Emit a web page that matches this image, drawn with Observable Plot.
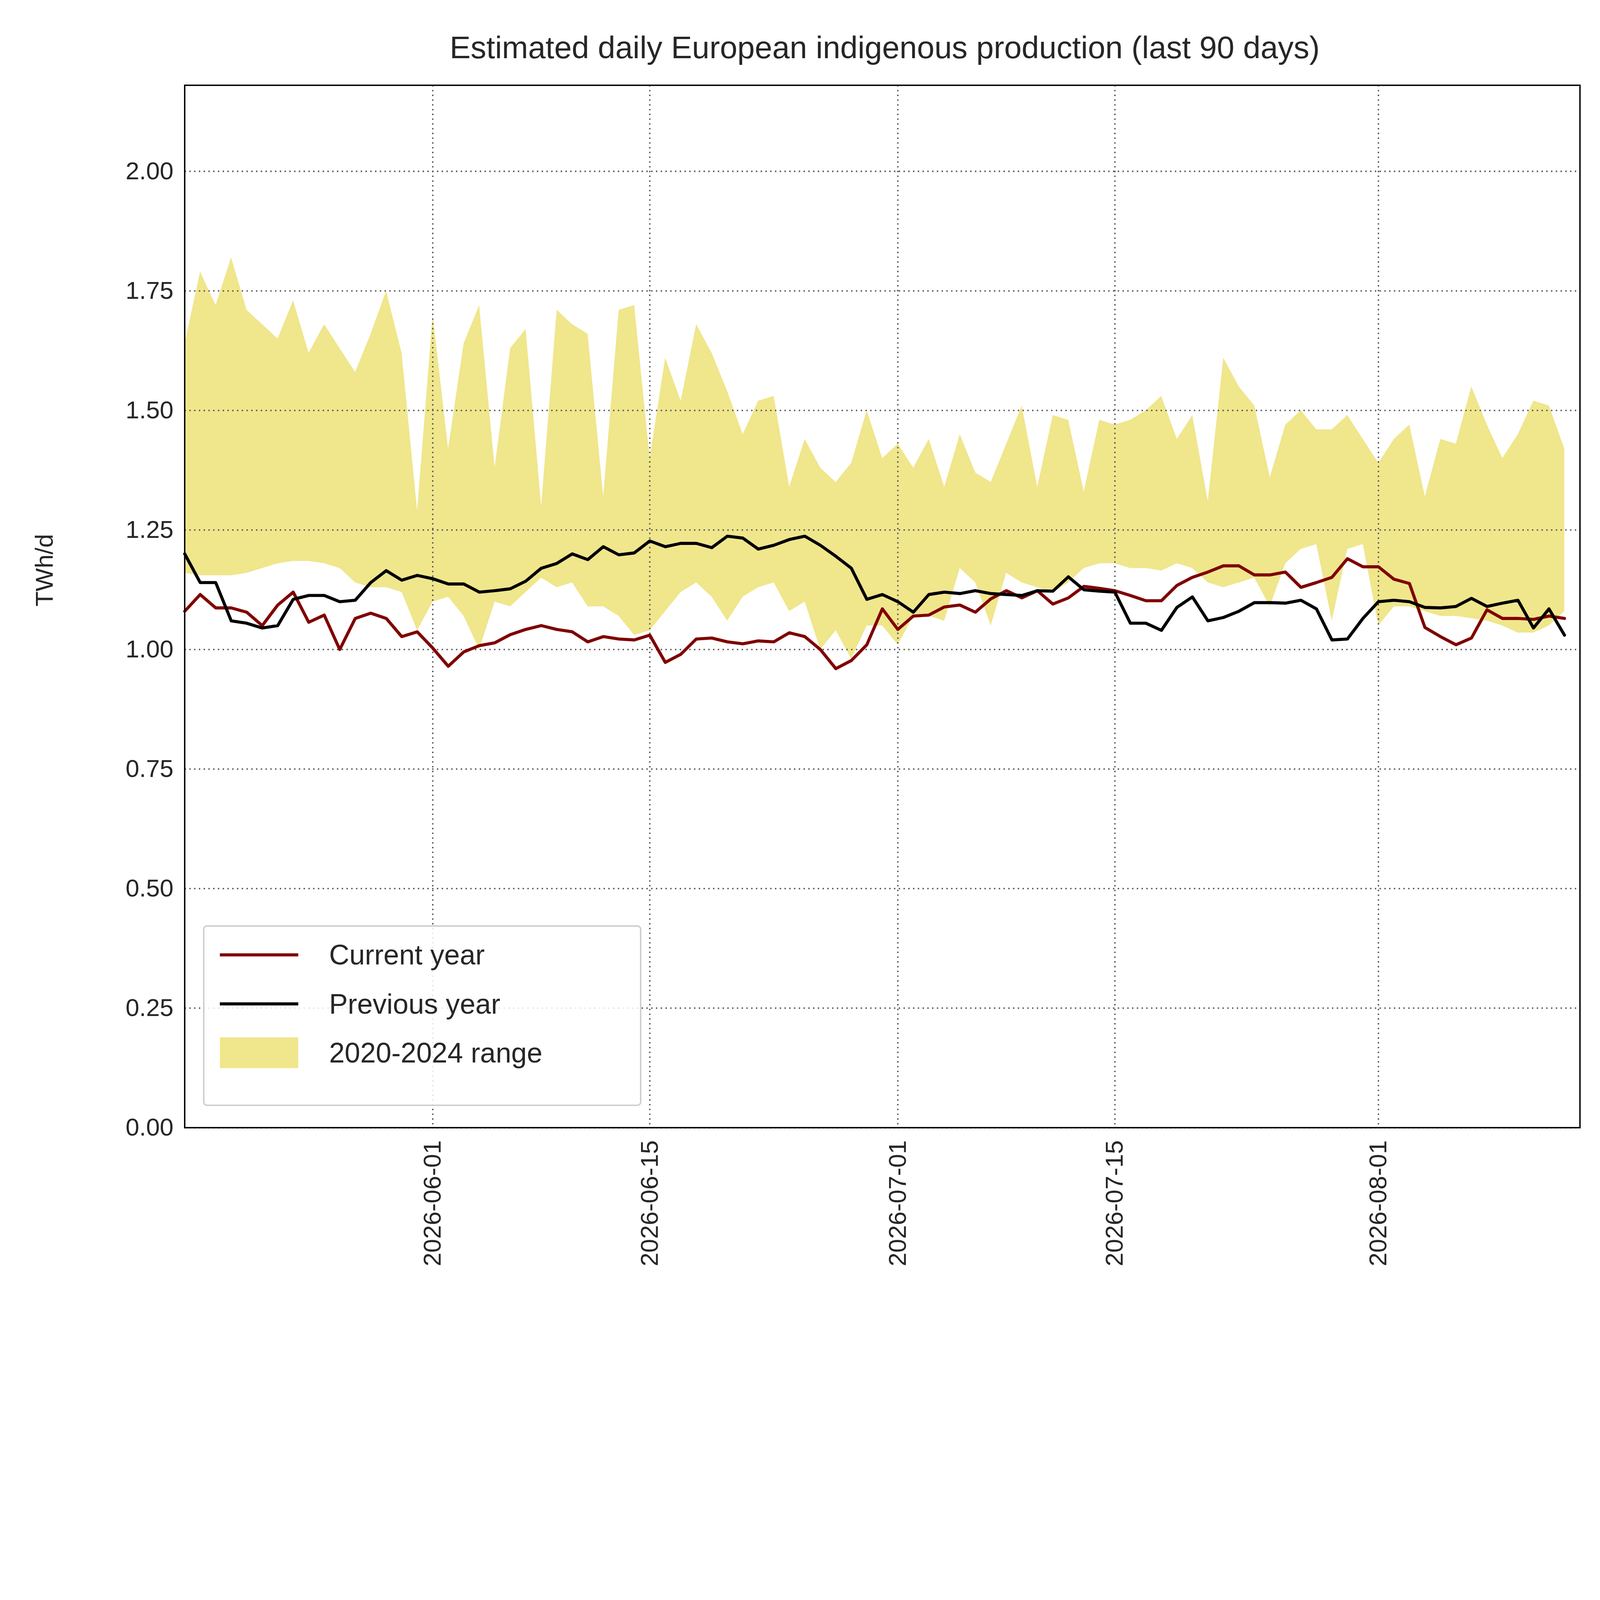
<!DOCTYPE html>
<html><head><meta charset="utf-8">
<script src="https://cdn.jsdelivr.net/npm/d3@7"></script>
<script src="https://cdn.jsdelivr.net/npm/@observablehq/plot@0.6"></script>
<style>
html,body{margin:0;padding:0;overflow:hidden;background:#fff;font-family:"Liberation Sans",Arial,sans-serif;}
#wrap{position:absolute;left:0;top:0;width:5713px;height:4906px;transform-origin:0 0;}
#title{height:300px;line-height:340px;text-align:center;font-size:112px;color:#262626;padding-left:605px;box-sizing:border-box;white-space:nowrap;}
#legend{position:absolute;left:725px;top:3304px;width:1565px;height:645px;border:5px solid #ccc;border-radius:14px;background:rgba(255,255,255,0.85);box-sizing:border-box;font-size:100px;color:#262626;}
.row{position:absolute;left:55px;height:120px;display:flex;align-items:center;white-space:nowrap;}
.sw{width:280px;margin-right:110px;}
</style></head>
<body><div id="wrap"><div id="title">Estimated daily European indigenous production (last 90 days)</div>
<div id="chart"></div>
<div id="legend">
<div class="row" style="top:40px"><div class="sw" style="height:11px;background:#800000"></div>Current year</div>
<div class="row" style="top:215px"><div class="sw" style="height:11px;background:#000"></div>Previous year</div>
<div class="row" style="top:390px"><div class="sw" style="height:110px;background:#F0E68C"></div>2020-2024 range</div>
</div></div>
<script>
const startDate = "2026-05-16";
const currentYear = [1.08,1.115,1.087,1.087,1.078,1.05,1.093,1.12,1.057,1.072,1.0,1.065,1.076,1.065,1.027,1.037,1.003,0.965,0.995,1.008,1.014,1.031,1.042,1.05,1.042,1.037,1.016,1.027,1.022,1.02,1.03,0.973,0.99,1.022,1.024,1.016,1.012,1.018,1.016,1.035,1.027,1.0,0.96,0.977,1.01,1.085,1.042,1.07,1.072,1.089,1.093,1.078,1.106,1.123,1.108,1.123,1.095,1.108,1.132,1.128,1.123,1.113,1.102,1.102,1.134,1.151,1.162,1.175,1.175,1.156,1.156,1.162,1.13,1.14,1.151,1.19,1.173,1.173,1.147,1.138,1.046,1.027,1.01,1.024,1.083,1.065,1.065,1.063,1.07,1.065];
const previousYear = [1.20,1.14,1.14,1.06,1.055,1.045,1.05,1.105,1.113,1.113,1.10,1.103,1.14,1.165,1.145,1.155,1.148,1.137,1.137,1.12,1.123,1.127,1.143,1.17,1.18,1.20,1.188,1.215,1.198,1.202,1.227,1.215,1.222,1.222,1.213,1.237,1.233,1.21,1.218,1.23,1.237,1.218,1.195,1.17,1.105,1.115,1.10,1.078,1.115,1.12,1.117,1.123,1.117,1.115,1.113,1.123,1.122,1.152,1.125,1.122,1.12,1.055,1.055,1.04,1.088,1.11,1.06,1.067,1.08,1.098,1.098,1.097,1.103,1.085,1.02,1.022,1.065,1.10,1.103,1.1,1.088,1.087,1.09,1.107,1.09,1.097,1.103,1.045,1.085,1.03];
const rangeMax = [1.64,1.79,1.72,1.82,1.71,1.68,1.65,1.73,1.62,1.68,1.63,1.58,1.66,1.75,1.62,1.29,1.70,1.42,1.64,1.72,1.38,1.63,1.67,1.30,1.71,1.68,1.66,1.32,1.71,1.72,1.40,1.61,1.52,1.68,1.62,1.54,1.45,1.52,1.53,1.34,1.44,1.38,1.35,1.39,1.50,1.40,1.43,1.38,1.44,1.34,1.45,1.37,1.35,1.43,1.51,1.34,1.49,1.48,1.33,1.48,1.47,1.48,1.50,1.53,1.44,1.49,1.31,1.61,1.55,1.51,1.36,1.47,1.50,1.46,1.46,1.49,1.44,1.39,1.44,1.47,1.32,1.44,1.43,1.55,1.47,1.40,1.45,1.52,1.51,1.42];
const rangeMin = [1.16,1.155,1.155,1.155,1.16,1.17,1.18,1.185,1.185,1.18,1.17,1.14,1.13,1.13,1.12,1.04,1.10,1.11,1.07,1.00,1.10,1.09,1.12,1.15,1.13,1.14,1.09,1.09,1.07,1.03,1.04,1.08,1.12,1.14,1.11,1.06,1.11,1.13,1.14,1.08,1.10,1.00,1.04,0.98,1.05,1.05,1.01,1.07,1.07,1.06,1.17,1.14,1.05,1.16,1.14,1.13,1.12,1.14,1.17,1.18,1.18,1.17,1.17,1.165,1.18,1.17,1.14,1.13,1.14,1.15,1.09,1.18,1.21,1.22,1.06,1.21,1.22,1.05,1.09,1.09,1.08,1.07,1.07,1.065,1.06,1.05,1.035,1.035,1.05,1.08];
const xTicks = ["2026-06-01","2026-06-15","2026-07-01","2026-07-15","2026-08-01"];
const yTicks = [0,0.25,0.5,0.75,1.0,1.25,1.5,1.75,2.0];

const t0 = new Date(startDate + "T00:00:00Z");
const data = currentYear.map((v,i)=>({date:d3.utcDay.offset(t0,i),cur:v,prev:previousYear[i],lo:rangeMin[i],hi:rangeMax[i]}));
const fmt = d3.utcFormat("%Y-%m-%d");
const xt = xTicks.map(d=>new Date(d+"T00:00:00Z"));

const plot = Plot.plot({
  width:5713, height:4606,
  marginTop:4, marginBottom:880, marginLeft:659, marginRight:72,
  style:{fontFamily:"Liberation Sans, Arial, sans-serif", fontSize:"88px", color:"#262626", background:"#fff", overflow:"visible"},
  x:{type:"utc", domain:[t0, new Date("2026-08-14T00:00:00Z")]},
  y:{domain:[0,2.18]},
  marks:[
    Plot.areaY(data,{x:"date",y1:"lo",y2:"hi",fill:"#F0E68C",curve:"linear"}),
    Plot.gridX(xt,{stroke:"#555",strokeOpacity:1,strokeWidth:5,strokeDasharray:"5,12"}),
    Plot.gridY(yTicks,{stroke:"#555",strokeOpacity:1,strokeWidth:5,strokeDasharray:"5,12"}),
    Plot.line(data,{x:"date",y:"cur",stroke:"#800000",strokeWidth:11}),
    Plot.line(data,{x:"date",y:"prev",stroke:"#000",strokeWidth:11}),
    Plot.axisX(xt,{tickFormat:fmt,tickRotate:-90,tickSize:0,tickPadding:45,fontSize:88,label:null}),
    Plot.axisY(yTicks,{tickFormat:d3.format(".2f"),tickSize:0,tickPadding:40,fontSize:88,label:null}),
    Plot.text(["TWh/d"],{frameAnchor:"left",dx:-500,rotate:-90,fontSize:88,fill:"#262626"}),
    Plot.frame({stroke:"#000",strokeWidth:5})
  ]
});
document.getElementById("chart").appendChild(plot);
function fit(){
  const W = window.innerWidth || 5713, H = window.innerHeight || 4906;
  const s = Math.min(W/5713, H/4906);
  document.getElementById("wrap").style.transform = "scale(" + s + ")";
}
fit(); window.addEventListener("resize", fit);
</script></body></html>
